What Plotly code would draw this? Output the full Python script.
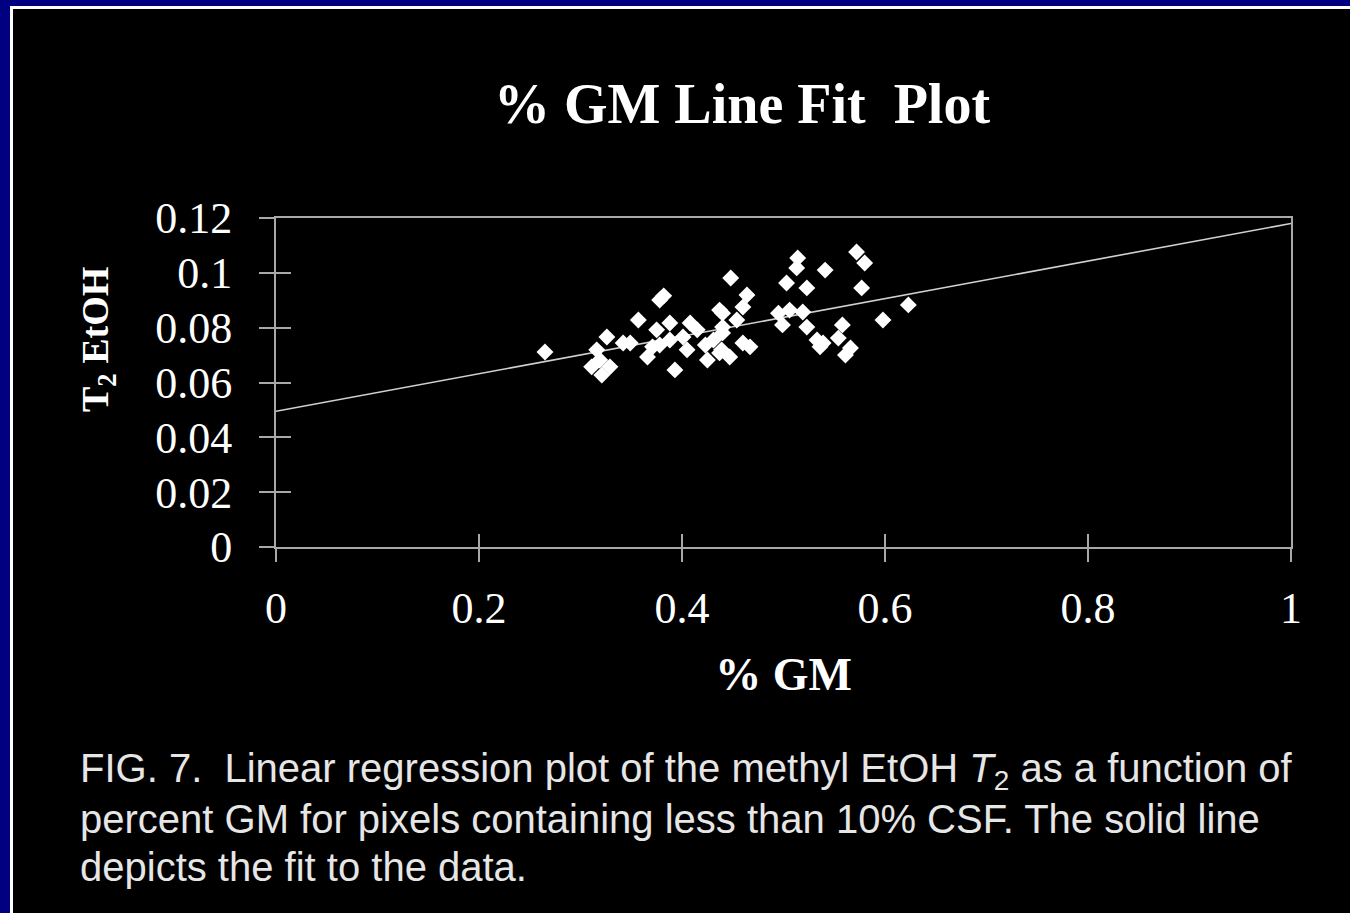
import plotly.graph_objects as go

# ---- data ----
gm_pct = [0.265, 0.316, 0.326, 0.342, 0.311, 0.329, 0.321, 0.319,
          0.378, 0.382, 0.357, 0.349, 0.375, 0.388, 0.408, 0.401, 0.371, 0.366,
          0.405, 0.393, 0.378, 0.388, 0.431, 0.437, 0.440, 0.425, 0.437, 0.448,
          0.514, 0.513, 0.541, 0.503, 0.523, 0.464, 0.460, 0.440, 0.495, 0.506,
          0.519, 0.499, 0.454, 0.523, 0.533, 0.536, 0.460, 0.467, 0.447, 0.440,
          0.439, 0.572, 0.580, 0.577, 0.623, 0.598, 0.558, 0.554, 0.539, 0.566,
          0.561, 0.415, 0.423]
t2_etoh = [0.0711, 0.0719, 0.0766, 0.0744, 0.0657, 0.0657, 0.0627, 0.0682,
           0.0901, 0.0916, 0.0828, 0.0744, 0.0792, 0.0817, 0.0817, 0.0766, 0.0730, 0.0693,
           0.0719, 0.0646, 0.0737, 0.0755, 0.0755, 0.0864, 0.0802, 0.0682, 0.0708, 0.0981,
           0.1054, 0.1018, 0.1010, 0.0963, 0.0945, 0.0919, 0.0875, 0.0853, 0.0853, 0.0864,
           0.0857, 0.0810, 0.0828, 0.0802, 0.0755, 0.0730, 0.0744, 0.0730, 0.0693, 0.0781,
           0.0719, 0.1076, 0.1036, 0.0945, 0.0883, 0.0828, 0.0810, 0.0762, 0.0744, 0.0726,
           0.0700, 0.0792, 0.0737]
fit_x = [0.0, 1.0]
fit_y = [0.0495, 0.118]

title_text = "% GM Line Fit\u00a0\u00a0Plot"
x_title = "% GM"
y_title = "T<sub>2</sub> EtOH"
caption_lines = [
    "FIG. 7.  Linear regression plot of the methyl EtOH <i>T</i><sub>2</sub> as a function of",
    "percent GM for pixels containing less than 10% CSF. The solid line",
    "depicts the fit to the data.",
]

# ---- layout geometry (pixels) ----
W, H = 1350, 913
L, R, T, B = 276, 1291, 218, 547


def px(x):
    return (x - L) / (R - L)


def py(y):
    return (B - y) / (B - T)


SERIF = "Liberation Serif, Times New Roman, serif"
SANS = "Liberation Sans, Arial, sans-serif"
AX = "#a8a8a8"

fig = go.Figure()
fig.add_trace(go.Scatter(x=fit_x, y=fit_y, mode="lines",
                         line=dict(color="#d0d0d0", width=1.6),
                         hoverinfo="skip", showlegend=False))
fig.add_trace(go.Scatter(x=gm_pct, y=t2_etoh, mode="markers",
                         marker=dict(symbol="diamond", size=13, color="white",
                                     line=dict(width=0)),
                         showlegend=False))
# invisible trace for overlay axes (inner half of crossing ticks)
fig.add_trace(go.Scatter(x=fit_x, y=fit_y, mode="lines", xaxis="x2", yaxis="y2",
                         line=dict(width=0), opacity=0, hoverinfo="skip",
                         showlegend=False))

fig.update_layout(
    width=W, height=H,
    margin=dict(l=L, r=W - R, t=T, b=H - B, pad=0),
    paper_bgcolor="#000080",
    plot_bgcolor="black",
    title=dict(text="<b>" + title_text + "</b>", x=px(742), xanchor="center",
               xref="paper", y=1 - 103 / H, yanchor="middle",
               font=dict(family=SERIF, size=56, color="white")),
    xaxis=dict(range=[0, 1], dtick=0.2, tick0=0, showgrid=False, zeroline=False,
               showline=True, linecolor=AX, linewidth=2, mirror=True,
               ticks="outside", ticklen=13, tickwidth=2, tickcolor=AX,
               ticklabelstandoff=8,
               tickfont=dict(family=SERIF, size=44, color="white"),
               title=dict(text="<b>" + x_title + "</b>", standoff=26,
                          font=dict(family=SERIF, size=46, color="white"))),
    yaxis=dict(range=[0, 0.12], dtick=0.02, tick0=0, showgrid=False, zeroline=False,
               showline=True, linecolor=AX, linewidth=2, mirror=True,
               ticks="outside", ticklen=15, tickwidth=2, tickcolor=AX,
               ticklabelstandoff=18,
               tickfont=dict(family=SERIF, size=44, color="white")),
    xaxis2=dict(range=[0, 1], dtick=0.2, tick0=0, overlaying="x", anchor="y2",
                showgrid=False, zeroline=False, showline=False,
                ticks="inside", ticklen=13, tickwidth=2, tickcolor=AX,
                showticklabels=False),
    yaxis2=dict(range=[0, 0.12], dtick=0.02, tick0=0, overlaying="y", anchor="x2",
                showgrid=False, zeroline=False, showline=False,
                ticks="inside", ticklen=15, tickwidth=2, tickcolor=AX,
                showticklabels=False),
    shapes=[
        dict(type="rect", xref="paper", yref="paper", layer="below",
             x0=px(10), x1=px(1400), y0=py(960), y1=py(6),
             fillcolor="white", line=dict(width=0)),
        dict(type="rect", xref="paper", yref="paper", layer="below",
             x0=px(13), x1=px(1400), y0=py(960), y1=py(9),
             fillcolor="black", line=dict(width=0)),
    ],
)

# y-axis title (placed to match the reference, which is above the plot centre)
fig.add_annotation(text="<b>" + y_title + "</b>", xref="paper", yref="paper",
                   x=px(98), y=py(340), xanchor="center", yanchor="middle",
                   textangle=-90, showarrow=False,
                   font=dict(family=SERIF, size=38, color="white"))

for i, line in enumerate(caption_lines):
    fig.add_annotation(text=line, xref="paper", yref="paper",
                       x=px(78), y=py(771 + 48 * i), xanchor="left", yanchor="middle",
                       showarrow=False, align="left",
                       font=dict(family=SANS, size=40, color="#e6e6e6"))

fig.write_html("out.html")
